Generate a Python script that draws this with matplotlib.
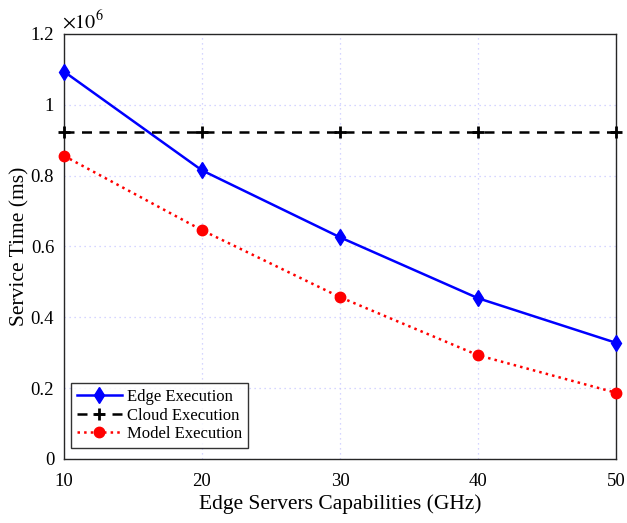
import matplotlib
matplotlib.use("Agg")
import matplotlib.pyplot as plt

capabilities = [10, 20, 30, 40, 50]
edge_exec = [1.094e6, 0.815e6, 0.626e6, 0.454e6, 0.328e6]
cloud_exec = [0.923e6, 0.923e6, 0.923e6, 0.923e6, 0.923e6]
model_exec = [0.856e6, 0.646e6, 0.457e6, 0.293e6, 0.187e6]
y_ticks = [0, 0.2e6, 0.4e6, 0.6e6, 0.8e6, 1.0e6, 1.2e6]
y_tick_labels = ["0", "0.2", "0.4", "0.6", "0.8", "1", "1.2"]

plt.rcParams['font.family'] = ['Liberation Serif', 'DejaVu Serif']
plt.rcParams['mathtext.fontset'] = 'stix'

fig = plt.figure(figsize=(6.27, 5.23), dpi=100)
ax = fig.add_axes([0.102, 0.1224, 0.8805, 0.8126])

ax.plot(capabilities, edge_exec, color='#0000ff', linestyle='-', linewidth=1.8,
        marker='d', markersize=8.5, label='Edge Execution', clip_on=False, zorder=3)
ax.plot(capabilities, cloud_exec, color='black', linestyle=(0, (4, 3)), linewidth=1.8,
        marker='+', markersize=9, markeredgewidth=2, label='Cloud Execution', clip_on=False, zorder=3)
ax.plot(capabilities, model_exec, color='#ff0000', linestyle=':', linewidth=1.8,
        marker='o', markersize=7.5, label='Model Execution', clip_on=False, zorder=3)

ax.set_xlim(10, 50)
ax.set_ylim(0, 1.2e6)
ax.set_xticks(capabilities)
ax.set_yticks(y_ticks)
ax.set_yticklabels(y_tick_labels)
ax.tick_params(direction='in', length=0, labelsize=13.5)
ax.tick_params(axis='x', pad=10)
ax.tick_params(axis='y', pad=7)
ax.grid(True, color='#c8c8ff', linestyle=(0, (1, 3)), linewidth=0.9)
for s in ax.spines.values():
    s.set_linewidth(1.0)
    s.set_color('#262626')

ax.set_xlabel('Edge Servers Capabilities (GHz)', fontsize=15.5, labelpad=3)
ax.set_ylabel('Service Time (ms)', fontsize=15.5, labelpad=1)
ax.text(-0.003, 1.002, r'$\times 10^6$', transform=ax.transAxes, fontsize=14.5,
        ha='left', va='bottom')

leg = ax.legend(loc='lower left', fontsize=12, frameon=True, fancybox=False,
                edgecolor='black', handlelength=2.7, borderpad=0.35,
                labelspacing=0.15, handletextpad=0.3, borderaxespad=0,
                bbox_to_anchor=(0.0127, 0.026))
leg.get_frame().set_linewidth(1.0)

fig.savefig('out.png', dpi=100)
